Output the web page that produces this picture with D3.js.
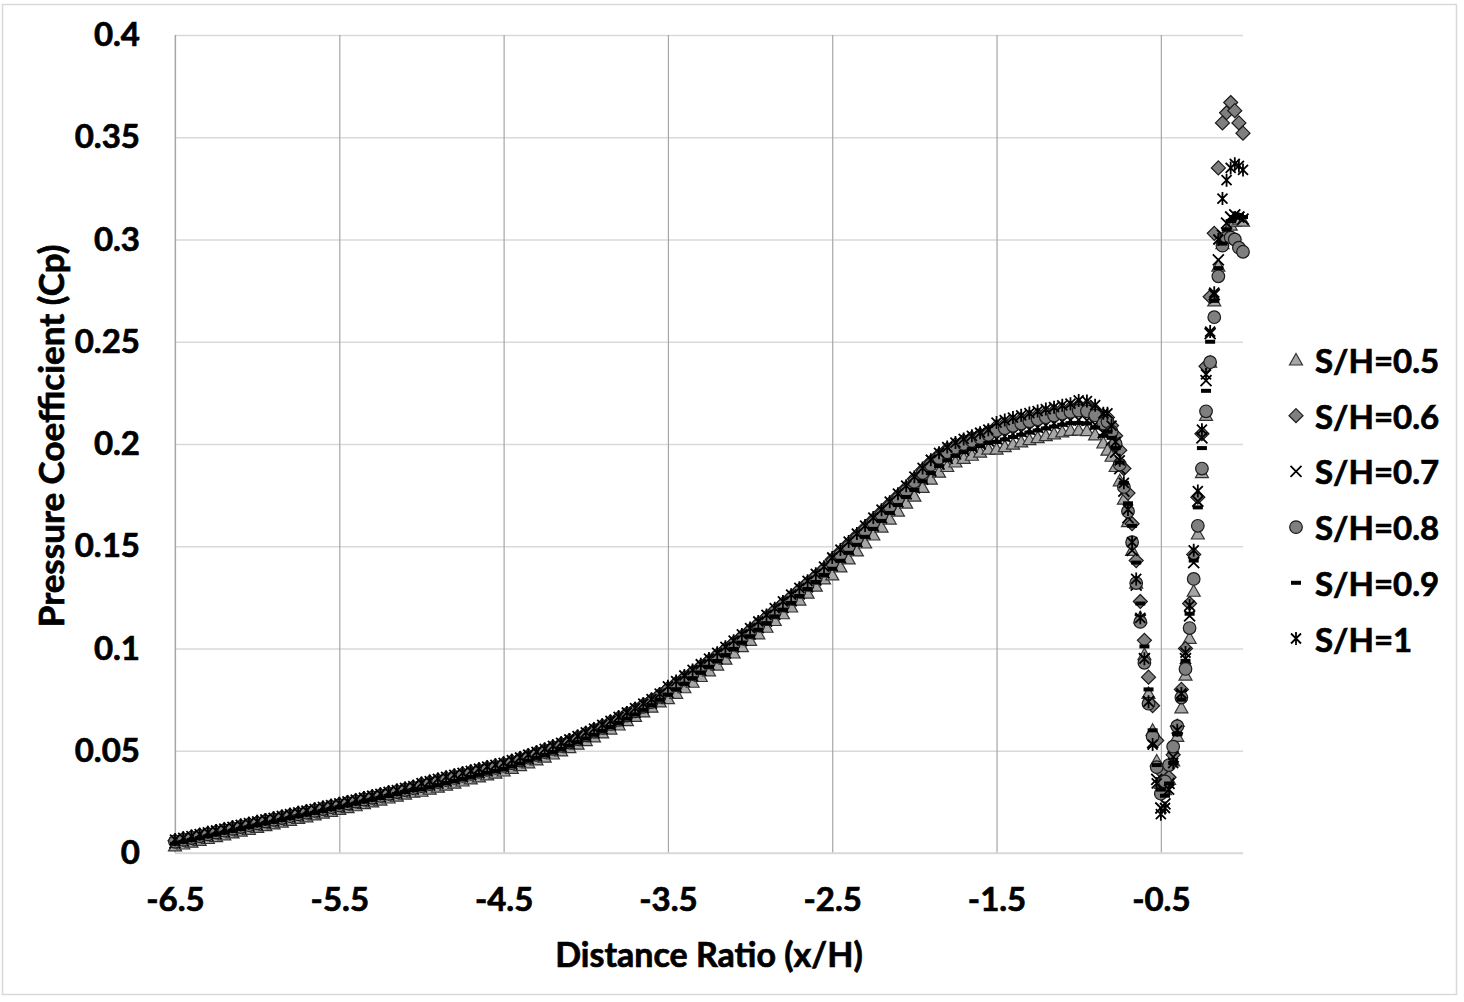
<!DOCTYPE html>
<html>
<head>
<meta charset="utf-8">
<script src="https://cdn.jsdelivr.net/npm/d3@7"></script>
<style>
  body { margin: 0; background: #fff; }
  text { font-family: Lato, "Open Sans", sans-serif; font-weight: bold; fill: #000; stroke: #000; stroke-width: 0.7px; }
</style>
</head>
<body>
<svg id="chart" width="1464" height="1002"></svg>
<script>

// distance ratio x/H (same stations for every S/H case)
var xRatio = [
  -6.5,-6.45,-6.4,-6.35,-6.3,-6.25,-6.2,-6.15,-6.1,-6.05,
  -6,-5.95,-5.9,-5.85,-5.8,-5.75,-5.7,-5.65,-5.6,-5.55,
  -5.5,-5.45,-5.4,-5.35,-5.3,-5.25,-5.2,-5.15,-5.1,-5.05,
  -5,-4.95,-4.9,-4.85,-4.8,-4.75,-4.7,-4.65,-4.6,-4.55,
  -4.5,-4.45,-4.4,-4.35,-4.3,-4.25,-4.2,-4.15,-4.1,-4.05,
  -4,-3.95,-3.9,-3.85,-3.8,-3.75,-3.7,-3.65,-3.6,-3.55,
  -3.5,-3.45,-3.4,-3.35,-3.3,-3.25,-3.2,-3.15,-3.1,-3.05,
  -3,-2.95,-2.9,-2.85,-2.8,-2.75,-2.7,-2.65,-2.6,-2.55,
  -2.5,-2.45,-2.4,-2.35,-2.3,-2.25,-2.2,-2.15,-2.1,-2.05,
  -2,-1.95,-1.9,-1.85,-1.8,-1.75,-1.7,-1.65,-1.6,-1.55,
  -1.5,-1.45,-1.4,-1.35,-1.3,-1.25,-1.2,-1.15,-1.1,-1.05,
  -1,-0.95,-0.9,-0.85,
  -0.825,-0.8,-0.775,-0.75,-0.725,-0.7,-0.675,-0.65,-0.625,-0.6,
  -0.575,-0.55,-0.525,-0.5,-0.475,-0.45,-0.425,-0.4,-0.375,-0.35,
  -0.325,-0.3,-0.275,-0.25,-0.225,-0.2,-0.175,-0.15,-0.125,-0.1,
  -0.075,-0.05,-0.025,0
];

var cpSH05 = [
  0.0035,0.0044,0.0053,0.0062,0.0071,0.0080,0.0089,0.0098,0.0107,0.0116,
  0.0125,0.0134,0.0142,0.0151,0.0160,0.0169,0.0177,0.0186,0.0195,0.0204,
  0.0213,0.0222,0.0231,0.0241,0.0250,0.0259,0.0269,0.0278,0.0288,0.0297,
  0.0302,0.0312,0.0322,0.0332,0.0342,0.0352,0.0362,0.0372,0.0382,0.0391,
  0.0401,0.0414,0.0427,0.0441,0.0455,0.0469,0.0484,0.0499,0.0515,0.0532,
  0.0550,0.0568,0.0587,0.0606,0.0626,0.0647,0.0668,0.0690,0.0713,0.0739,
  0.0755,0.0781,0.0808,0.0835,0.0863,0.0891,0.0919,0.0948,0.0978,0.1009,
  0.1040,0.1072,0.1104,0.1137,0.1170,0.1203,0.1237,0.1271,0.1305,0.1340,
  0.1360,0.1399,0.1438,0.1477,0.1516,0.1555,0.1594,0.1633,0.1672,0.1711,
  0.1745,0.1788,0.1828,0.1862,0.1890,0.1912,0.1930,0.1945,0.1960,0.1975,
  0.1975,0.1987,0.1999,0.2010,0.2021,0.2031,0.2041,0.2050,0.2059,0.2067,
  0.2068,0.2065,0.2045,0.2005,
  0.197,0.194,0.189,0.182,0.173,0.162,0.148,0.132,0.115,0.097,
  0.078,0.060,0.045,0.034,0.031,0.036,0.045,0.057,0.071,0.087,
  0.105,0.128,0.156,0.186,0.214,0.240,0.270,0.287,0.298,0.304,
  0.307,0.309,0.310,0.309
];

var cpSH06 = [
  0.0060,0.0069,0.0078,0.0087,0.0096,0.0105,0.0114,0.0123,0.0132,0.0141,
  0.0150,0.0159,0.0167,0.0176,0.0185,0.0194,0.0202,0.0211,0.0220,0.0229,
  0.0238,0.0247,0.0256,0.0266,0.0275,0.0284,0.0294,0.0303,0.0313,0.0322,
  0.0337,0.0347,0.0357,0.0367,0.0377,0.0387,0.0397,0.0407,0.0417,0.0426,
  0.0436,0.0449,0.0462,0.0476,0.0490,0.0504,0.0519,0.0534,0.0550,0.0567,
  0.0585,0.0603,0.0622,0.0641,0.0661,0.0682,0.0703,0.0725,0.0748,0.0774,
  0.0805,0.0831,0.0858,0.0885,0.0913,0.0941,0.0969,0.0998,0.1028,0.1059,
  0.1090,0.1122,0.1154,0.1187,0.1220,0.1253,0.1287,0.1321,0.1355,0.1390,
  0.1435,0.1474,0.1513,0.1552,0.1591,0.1630,0.1669,0.1708,0.1747,0.1786,
  0.1830,0.1873,0.1913,0.1947,0.1975,0.1997,0.2015,0.2030,0.2045,0.2060,
  0.2085,0.2097,0.2109,0.2120,0.2131,0.2141,0.2151,0.2160,0.2169,0.2177,
  0.2188,0.2185,0.2165,0.2125,
  0.213,0.209,0.204,0.197,0.188,0.176,0.161,0.143,0.123,0.104,
  0.086,0.072,0.055,0.040,0.033,0.037,0.048,0.062,0.080,0.100,
  0.122,0.146,0.174,0.205,0.238,0.272,0.303,0.335,0.357,0.362,
  0.367,0.363,0.357,0.352
];

var cpSH07 = [
  0.0050,0.0059,0.0068,0.0077,0.0086,0.0095,0.0104,0.0113,0.0122,0.0131,
  0.0140,0.0149,0.0157,0.0166,0.0175,0.0184,0.0192,0.0201,0.0210,0.0219,
  0.0228,0.0237,0.0246,0.0256,0.0265,0.0274,0.0284,0.0293,0.0303,0.0312,
  0.0322,0.0332,0.0342,0.0352,0.0362,0.0372,0.0382,0.0392,0.0402,0.0411,
  0.0421,0.0434,0.0447,0.0461,0.0475,0.0489,0.0504,0.0519,0.0535,0.0552,
  0.0570,0.0588,0.0607,0.0626,0.0646,0.0667,0.0688,0.0710,0.0733,0.0759,
  0.0785,0.0811,0.0838,0.0865,0.0893,0.0921,0.0949,0.0978,0.1008,0.1039,
  0.1070,0.1102,0.1134,0.1167,0.1200,0.1233,0.1267,0.1301,0.1335,0.1370,
  0.1405,0.1444,0.1483,0.1522,0.1561,0.1600,0.1639,0.1678,0.1717,0.1756,
  0.1785,0.1828,0.1868,0.1902,0.1930,0.1952,0.1970,0.1985,0.2000,0.2015,
  0.2025,0.2037,0.2049,0.2060,0.2071,0.2081,0.2091,0.2100,0.2109,0.2117,
  0.2118,0.2115,0.2095,0.2055,
  0.206,0.202,0.196,0.188,0.177,0.164,0.148,0.131,0.114,0.095,
  0.074,0.054,0.036,0.022,0.024,0.034,0.047,0.061,0.077,0.095,
  0.116,0.142,0.172,0.203,0.231,0.254,0.273,0.290,0.302,0.308,
  0.311,0.312,0.311,0.310
];

var cpSH08 = [
  0.0055,0.0064,0.0073,0.0082,0.0091,0.0100,0.0109,0.0118,0.0127,0.0136,
  0.0145,0.0154,0.0162,0.0171,0.0180,0.0189,0.0197,0.0206,0.0215,0.0224,
  0.0233,0.0242,0.0251,0.0261,0.0270,0.0279,0.0289,0.0298,0.0308,0.0317,
  0.0327,0.0337,0.0347,0.0357,0.0367,0.0377,0.0387,0.0397,0.0407,0.0416,
  0.0426,0.0439,0.0452,0.0466,0.0480,0.0494,0.0509,0.0524,0.0540,0.0557,
  0.0575,0.0593,0.0612,0.0631,0.0651,0.0672,0.0693,0.0715,0.0738,0.0764,
  0.0795,0.0821,0.0848,0.0875,0.0903,0.0931,0.0959,0.0988,0.1018,0.1049,
  0.1080,0.1112,0.1144,0.1177,0.1210,0.1243,0.1277,0.1311,0.1345,0.1380,
  0.1420,0.1459,0.1498,0.1537,0.1576,0.1615,0.1654,0.1693,0.1732,0.1771,
  0.1815,0.1858,0.1898,0.1932,0.1960,0.1982,0.2000,0.2015,0.2030,0.2045,
  0.2065,0.2077,0.2089,0.2100,0.2111,0.2121,0.2131,0.2140,0.2149,0.2157,
  0.2163,0.2160,0.2140,0.2100,
  0.211,0.206,0.200,0.190,0.179,0.167,0.152,0.132,0.113,0.093,
  0.073,0.057,0.042,0.029,0.035,0.043,0.052,0.062,0.076,0.090,
  0.110,0.134,0.160,0.188,0.216,0.240,0.262,0.282,0.297,0.301,
  0.301,0.300,0.296,0.294
];

var cpSH09 = [
  0.0045,0.0054,0.0063,0.0072,0.0081,0.0090,0.0099,0.0108,0.0117,0.0126,
  0.0135,0.0144,0.0152,0.0161,0.0170,0.0179,0.0187,0.0196,0.0205,0.0214,
  0.0223,0.0232,0.0241,0.0251,0.0260,0.0269,0.0279,0.0288,0.0298,0.0307,
  0.0312,0.0322,0.0332,0.0342,0.0352,0.0362,0.0372,0.0382,0.0392,0.0401,
  0.0411,0.0424,0.0437,0.0451,0.0465,0.0479,0.0494,0.0509,0.0525,0.0542,
  0.0560,0.0578,0.0597,0.0616,0.0636,0.0657,0.0678,0.0700,0.0723,0.0749,
  0.0775,0.0801,0.0828,0.0855,0.0883,0.0911,0.0939,0.0968,0.0998,0.1029,
  0.1060,0.1092,0.1124,0.1157,0.1190,0.1223,0.1257,0.1291,0.1325,0.1360,
  0.1390,0.1429,0.1468,0.1507,0.1546,0.1585,0.1624,0.1663,0.1702,0.1741,
  0.1775,0.1818,0.1858,0.1892,0.1920,0.1942,0.1960,0.1975,0.1990,0.2005,
  0.2010,0.2022,0.2034,0.2045,0.2056,0.2066,0.2076,0.2085,0.2094,0.2102,
  0.2103,0.2100,0.2080,0.2040,
  0.206,0.203,0.198,0.191,0.181,0.171,0.160,0.142,0.122,0.101,
  0.080,0.060,0.043,0.031,0.028,0.034,0.044,0.058,0.075,0.094,
  0.117,0.143,0.169,0.198,0.226,0.250,0.270,0.286,0.298,0.305,
  0.309,0.311,0.312,0.311
];

var cpSH10 = [
  0.0065,0.0074,0.0083,0.0092,0.0101,0.0110,0.0119,0.0128,0.0137,0.0146,
  0.0155,0.0164,0.0172,0.0181,0.0190,0.0199,0.0207,0.0216,0.0225,0.0234,
  0.0243,0.0252,0.0261,0.0271,0.0280,0.0289,0.0299,0.0308,0.0318,0.0327,
  0.0342,0.0352,0.0362,0.0372,0.0382,0.0392,0.0402,0.0412,0.0422,0.0431,
  0.0441,0.0454,0.0467,0.0481,0.0495,0.0509,0.0524,0.0539,0.0555,0.0572,
  0.0590,0.0608,0.0627,0.0646,0.0666,0.0687,0.0708,0.0730,0.0753,0.0779,
  0.0815,0.0841,0.0868,0.0895,0.0923,0.0951,0.0979,0.1008,0.1038,0.1069,
  0.1100,0.1132,0.1164,0.1197,0.1230,0.1263,0.1297,0.1331,0.1365,0.1400,
  0.1445,0.1484,0.1523,0.1562,0.1601,0.1640,0.1679,0.1718,0.1757,0.1796,
  0.1840,0.1883,0.1923,0.1957,0.1985,0.2007,0.2025,0.2040,0.2055,0.2070,
  0.2105,0.2117,0.2129,0.2140,0.2151,0.2161,0.2171,0.2180,0.2189,0.2197,
  0.2213,0.2210,0.2190,0.2150,
  0.215,0.209,0.201,0.192,0.181,0.168,0.152,0.134,0.115,0.095,
  0.074,0.053,0.034,0.019,0.022,0.031,0.044,0.060,0.078,0.098,
  0.121,0.148,0.177,0.207,0.234,0.255,0.274,0.300,0.320,0.329,
  0.335,0.337,0.336,0.334
];

var seriesNames = ["S/H=0.5", "S/H=0.6", "S/H=0.7", "S/H=0.8", "S/H=0.9", "S/H=1"];
var seriesValues = [cpSH05, cpSH06, cpSH07, cpSH08, cpSH09, cpSH10];
var markerKinds = ["triangle", "diamond", "cross", "circle", "dash", "star"];

var xTicks = [-6.5, -5.5, -4.5, -3.5, -2.5, -1.5, -0.5];
var yTicks = [0, 0.05, 0.1, 0.15, 0.2, 0.25, 0.3, 0.35, 0.4];

var margin = { top: 35, left: 175 };
var width = 1068, height = 818;

var svg = d3.select("#chart");

// outer chart frame
svg.append("rect")
    .attr("x", 2.5).attr("y", 4.5)
    .attr("width", 1454).attr("height", 990)
    .attr("fill", "#fff")
    .attr("stroke", "#d9d9d9")
    .attr("stroke-width", 1.5);

var x = d3.scaleLinear().domain([-6.5, 0]).range([0, width]);
var y = d3.scaleLinear().domain([0, 0.4]).range([height, 0]);

var plot = svg.append("g")
    .attr("transform", "translate(" + margin.left + "," + margin.top + ")");

function styleTickText(g) {
    g.selectAll(".tick text")
        .attr("font-size", 33)
        .attr("font-family", "Lato, 'Open Sans', sans-serif")
        .attr("font-weight", "bold")
        .attr("fill", "#000");
}

// horizontal gridlines + y labels
var yAxis = d3.axisLeft(y)
    .tickValues(yTicks)
    .tickSize(-width)
    .tickPadding(35)
    .tickFormat(function (d) { return String(+d.toFixed(2)); });

plot.append("g")
    .attr("class", "axis axis--y")
    .call(yAxis)
    .call(function (g) {
        g.select(".domain").remove();
        g.selectAll(".tick line").attr("stroke", "#d9d9d9").attr("stroke-width", 1.5);
        styleTickText(g);
    });

// left edge of plot area
plot.append("line")
    .attr("x1", 0).attr("x2", 0)
    .attr("y1", 0).attr("y2", height)
    .attr("stroke", "#d9d9d9").attr("stroke-width", 1.5);

// vertical gridlines + x labels
var xAxis = d3.axisBottom(x)
    .tickValues(xTicks)
    .tickSize(-height)
    .tickPadding(35)
    .tickFormat(function (d) { return String(d); });

plot.append("g")
    .attr("class", "axis axis--x")
    .attr("transform", "translate(0," + height + ")")
    .call(xAxis)
    .call(function (g) {
        g.select(".domain").remove();
        g.selectAll(".tick line").attr("stroke", "#a6a6a6").attr("stroke-width", 1.2);
        styleTickText(g);
    });

// bottom line of plot area
plot.append("line")
    .attr("x1", 0).attr("x2", width)
    .attr("y1", height).attr("y2", height)
    .attr("stroke", "#d9d9d9").attr("stroke-width", 1.5);

// marker drawing
function drawMarker(sel, kind) {
    if (kind === "triangle") {
        sel.append("path").attr("d", "M0,-6.5L6.5,5L-6.5,5Z")
            .attr("fill", "#a6a6a6").attr("stroke", "#333").attr("stroke-width", 1.2);
    } else if (kind === "diamond") {
        sel.append("path").attr("d", "M0,-7L7,0L0,7L-7,0Z")
            .attr("fill", "#7f7f7f").attr("stroke", "#1a1a1a").attr("stroke-width", 1.2);
    } else if (kind === "cross") {
        sel.append("path").attr("d", "M-5.5,-5.5L5.5,5.5M5.5,-5.5L-5.5,5.5")
            .attr("fill", "none").attr("stroke", "#000").attr("stroke-width", 1.8);
    } else if (kind === "circle") {
        sel.append("circle").attr("r", 6.3)
            .attr("fill", "#7f7f7f").attr("stroke", "#1a1a1a").attr("stroke-width", 1.2);
    } else if (kind === "dash") {
        sel.append("rect").attr("x", -5).attr("y", -2).attr("width", 10).attr("height", 4)
            .attr("fill", "#000");
    } else if (kind === "star") {
        sel.append("path").attr("d", "M-5,-5L5,5M5,-5L-5,5M0,-6.5V6.5")
            .attr("fill", "none").attr("stroke", "#000").attr("stroke-width", 1.8);
    }
}

seriesValues.forEach(function (vals, si) {
    if (vals.length !== xRatio.length) console.error("length mismatch", seriesNames[si], vals.length);
    var pts = vals.map(function (v, i) { return [xRatio[i], v]; });
    var g = plot.append("g").attr("class", "series series-" + si);
    g.selectAll("g.pt")
        .data(pts)
        .enter().append("g")
        .attr("class", "pt")
        .attr("transform", function (d) { return "translate(" + x(d[0]) + "," + y(d[1]) + ")"; })
        .each(function () { drawMarker(d3.select(this), markerKinds[si]); });
});

// axis titles
svg.append("text")
    .attr("x", 709).attr("y", 953)
    .attr("text-anchor", "middle")
    .attr("dominant-baseline", "central")
    .attr("font-size", 34)
    .text("Distance Ratio (x/H)");

svg.append("text")
    .attr("transform", "translate(50,436) rotate(-90)")
    .attr("text-anchor", "middle")
    .attr("dominant-baseline", "central")
    .attr("font-size", 35)
    .text("Pressure Coefficient (Cp)");

// legend
var legend = svg.append("g").attr("class", "legend");
seriesNames.forEach(function (name, i) {
    var row = legend.append("g")
        .attr("transform", "translate(1296," + (360 + i * 55.7) + ")");
    drawMarker(row.append("g"), markerKinds[i]);
    row.append("text")
        .attr("x", 19)
        .attr("dominant-baseline", "central")
        .attr("font-size", 33)
        .text(name);
});

</script>
</body>
</html>
